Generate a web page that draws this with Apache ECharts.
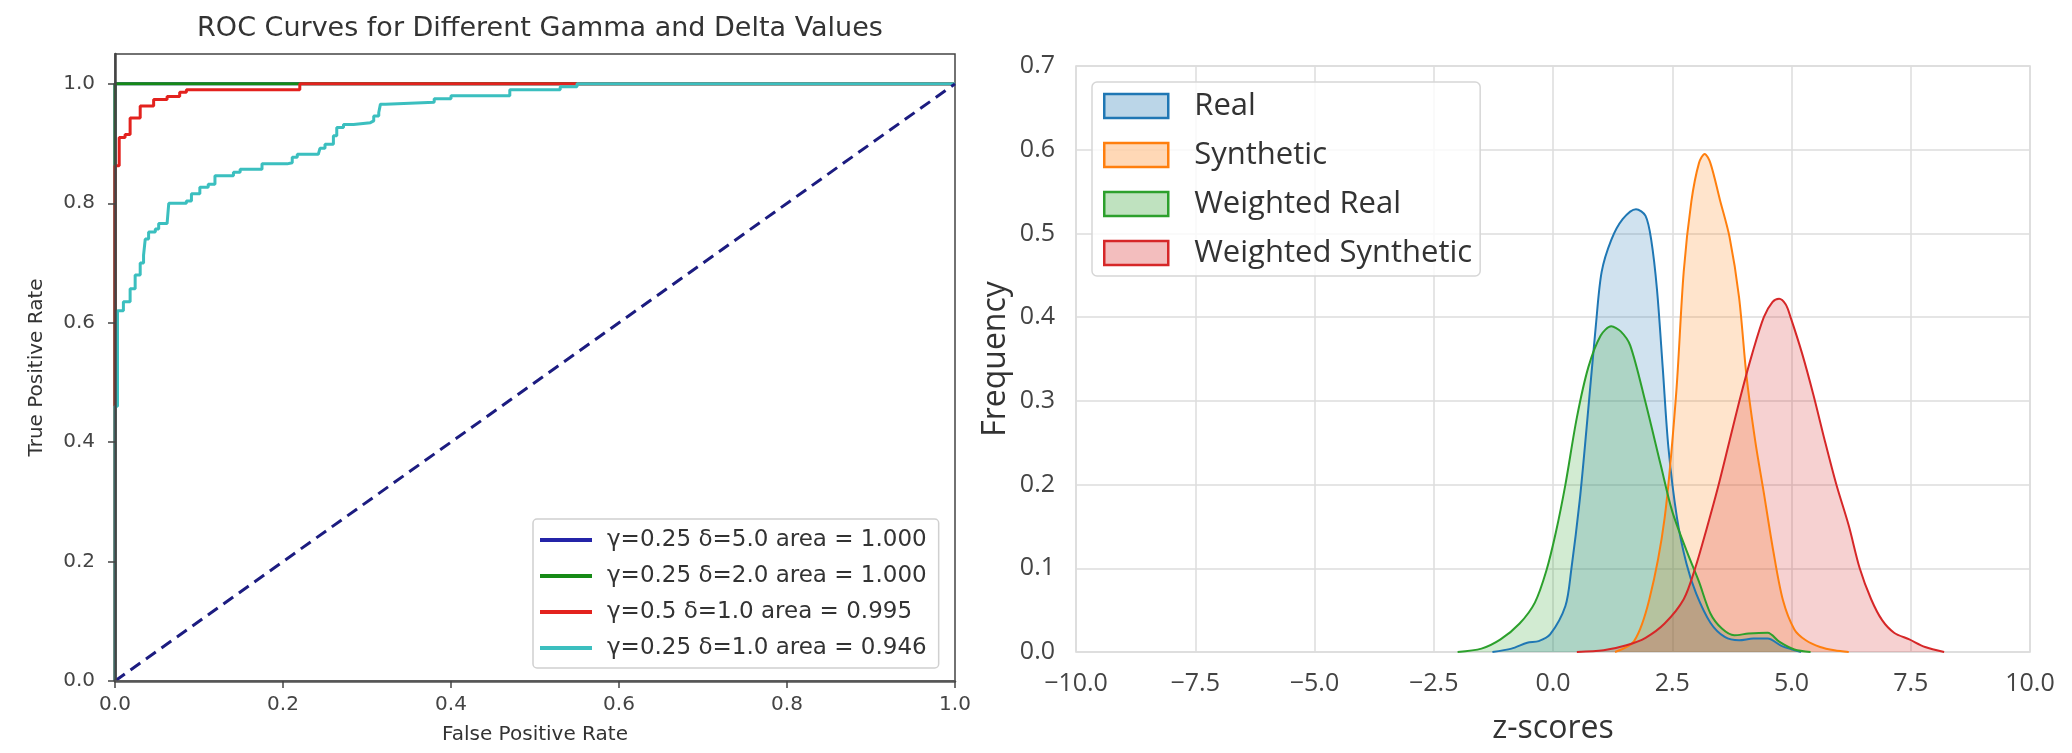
<!DOCTYPE html>
<html>
<head>
<meta charset="utf-8">
<title>ROC curves and z-score densities</title>
<script src="https://cdn.jsdelivr.net/npm/echarts@6/dist/echarts.min.js"></script>
<style>
html,body{margin:0;padding:0;background:#fff;}
#charts{width:2072px;height:753px;}
</style>
</head>
<body>
<div id="charts"></div>
<script>
// left panel: ROC curves
var rocNames = ['γ=0.25 δ=5.0 area = 1.000', 'γ=0.25 δ=2.0 area = 1.000', 'γ=0.5 δ=1.0 area = 0.995', 'γ=0.25 δ=1.0 area = 0.946'];
var rocColors = ['#2424a8', '#168a16', '#e3221e', '#3bbfbf'];
var fprBlue = [0, 0, 1];
var tprBlue = [0, 1, 1];
var fprGreen = [0, 0, 1];
var tprGreen = [0, 1, 1];
var fprRed = [0, 0, 0.005, 0.012, 0.018, 0.03, 0.046, 0.062, 0.077, 0.085, 0.22, 1];
var tprRed = [0, 0.863, 0.91, 0.915, 0.943, 0.963, 0.974, 0.979, 0.986, 0.99, 1, 1];
var fprCyan = [0, 0, 0.003, 0.01, 0.018, 0.024, 0.03, 0.034, 0.036, 0.04, 0.048, 0.052, 0.062, 0.064, 0.085, 0.091, 0.101, 0.111, 0.119, 0.141, 0.149, 0.175, 0.205, 0.211, 0.217, 0.242, 0.244, 0.25, 0.26, 0.264, 0.272, 0.284, 0.304, 0.308, 0.314, 0.316, 0.322, 0.38, 0.4, 0.47, 0.53, 0.55, 1];
var tprCyan = [0, 0.46, 0.62, 0.635, 0.657, 0.68, 0.70, 0.713, 0.74, 0.752, 0.757, 0.766, 0.768, 0.80, 0.804, 0.816, 0.827, 0.832, 0.846, 0.852, 0.857, 0.866, 0.868, 0.877, 0.882, 0.885, 0.892, 0.899, 0.913, 0.927, 0.932, 0.935, 0.938, 0.946, 0.952, 0.966, 0.969, 0.975, 0.98, 0.99, 0.995, 1, 1];
var chanceX = [0, 1];
var chanceY = [0, 1];
var rocXTicks = [0, 0.2, 0.4, 0.6, 0.8, 1.0];
var rocYTicks = [0, 0.2, 0.4, 0.6, 0.8, 1.0];

// right panel: z-score densities
var kdeNames = ['Real', 'Synthetic', 'Weighted Real', 'Weighted Synthetic'];
var kdeLines = ['#1f77b4', '#ff7f0e', '#2ca02c', '#d62728'];
var kdeFills = ['rgba(31,119,180,0.3)', 'rgba(255,127,14,0.3)', 'rgba(44,160,44,0.3)', 'rgba(214,39,40,0.3)'];
var realX = [-1.27, -0.87, -0.54, -0.3, -0.06, 0.26, 0.38, 0.56, 0.7, 0.9, 1.02, 1.22, 1.46, 1.74, 1.94, 2.06, 2.18, 2.3, 2.42, 2.6, 2.8, 3.0, 3.3, 3.6, 3.9, 4.2, 4.5, 4.8, 5.2];
var realY = [0, 0.004, 0.011, 0.013, 0.021, 0.055, 0.097, 0.181, 0.265, 0.391, 0.454, 0.492, 0.517, 0.529, 0.521, 0.492, 0.433, 0.34, 0.244, 0.16, 0.105, 0.07, 0.035, 0.018, 0.014, 0.016, 0.016, 0.007, 0];
var synthX = [1.3, 1.7, 2.02, 2.34, 2.58, 2.74, 2.9, 3.06, 3.18, 3.3, 3.5, 3.7, 3.9, 4.06, 4.24, 4.42, 4.62, 4.82, 5.06, 5.3, 5.6, 5.9, 6.2];
var synthY = [0, 0.013, 0.063, 0.16, 0.307, 0.454, 0.538, 0.584, 0.595, 0.584, 0.54, 0.496, 0.424, 0.328, 0.252, 0.19, 0.12, 0.062, 0.027, 0.014, 0.006, 0.002, 0];
var wRealX = [-2.0, -1.5, -1.1, -0.7, -0.38, -0.14, 0.06, 0.26, 0.5, 0.74, 1.0, 1.22, 1.42, 1.62, 1.94, 2.26, 2.5, 2.82, 3.06, 3.3, 3.54, 3.8, 4.1, 4.5, 4.75, 5.06, 5.4];
var wRealY = [0, 0.004, 0.015, 0.034, 0.059, 0.097, 0.143, 0.2, 0.28, 0.34, 0.378, 0.389, 0.383, 0.366, 0.298, 0.223, 0.168, 0.118, 0.084, 0.046, 0.028, 0.02, 0.022, 0.023, 0.012, 0.003, 0];
var wSynthX = [0.5, 1.06, 1.54, 1.94, 2.34, 2.74, 2.98, 3.22, 3.46, 3.7, 3.94, 4.18, 4.42, 4.6, 4.74, 4.88, 4.98, 5.22, 5.46, 5.7, 5.94, 6.2, 6.43, 6.67, 6.9, 7.15, 7.47, 7.8, 8.2];
var wSynthY = [0, 0.002, 0.008, 0.017, 0.034, 0.063, 0.1, 0.147, 0.197, 0.252, 0.307, 0.357, 0.4, 0.418, 0.422, 0.415, 0.4, 0.357, 0.307, 0.252, 0.2, 0.151, 0.1, 0.063, 0.038, 0.023, 0.015, 0.006, 0];
var zTicks = [-10, -7.5, -5, -2.5, 0, 2.5, 5, 7.5, 10];
var freqTicks = [0, 0.1, 0.2, 0.3, 0.4, 0.5, 0.6, 0.7];

function zip(xs, ys) {
	return xs.map(function (x, i) { return [x, ys[i]]; });
}

var rocData = [zip(fprBlue, tprBlue), zip(fprGreen, tprGreen), zip(fprRed, tprRed), zip(fprCyan, tprCyan)];
var kdeData = [zip(realX, realY), zip(synthX, synthY), zip(wRealX, wRealY), zip(wSynthX, wSynthY)];

var leftFont = 'DejaVu Sans';
var rightFont = 'Open Sans';
var series = [];

rocNames.forEach(function (name, i) {
	series.push({
		name: name,
		type: 'line',
		xAxisIndex: 0,
		yAxisIndex: 0,
		data: rocData[i],
		step: 'end',
		symbol: 'none',
		lineStyle: {color: rocColors[i], width: 3},
		itemStyle: {color: rocColors[i]}
	});
});
series.push({
	name: 'chance',
	type: 'line',
	xAxisIndex: 0,
	yAxisIndex: 0,
	data: zip(chanceX, chanceY),
	symbol: 'none',
	lineStyle: {color: '#1c1c80', width: 3, type: [12, 7]}
});
kdeNames.forEach(function (name, i) {
	series.push({
		name: name,
		type: 'line',
		xAxisIndex: 1,
		yAxisIndex: 1,
		data: kdeData[i],
		smooth: 0.3,
		symbol: 'none',
		lineStyle: {color: kdeLines[i], width: 2},
		itemStyle: {color: kdeLines[i]},
		areaStyle: {color: kdeFills[i]}
	});
});

var option = {
	animation: false,
	backgroundColor: '#fff',
	title: {
		text: 'ROC Curves for Different Gamma and Delta Values',
		left: 535,
		top: 10,
		textAlign: 'center',
		textStyle: {fontFamily: leftFont, fontSize: 27, fontWeight: 'normal', color: '#333'}
	},
	legend: [{
		data: rocNames,
		orient: 'vertical',
		left: 533,
		top: 519,
		icon: 'rect',
		itemWidth: 52,
		itemHeight: 4,
		itemGap: 8,
		padding: [7, 12, 6, 7],
		selectedMode: false,
		borderColor: '#d0d0d0',
		borderWidth: 1.5,
		borderRadius: 4,
		backgroundColor: 'rgba(255,255,255,0.8)',
		textStyle: {fontFamily: leftFont, fontSize: 23, color: '#333', lineHeight: 28, padding: [0, 0, 0, 10]}
	}, {
		data: kdeNames.map(function (n, i) {
			return {name: n, itemStyle: {color: kdeFills[i], borderColor: kdeLines[i], borderWidth: 2.5}};
		}),
		orient: 'vertical',
		left: 1092,
		top: 82,
		icon: 'rect',
		itemWidth: 64,
		itemHeight: 24,
		itemGap: 13,
		padding: [6, 8, 5, 11],
		selectedMode: false,
		borderColor: '#d6d6d6',
		borderWidth: 1.5,
		borderRadius: 5,
		backgroundColor: 'rgba(255,255,255,0.8)',
		textStyle: {fontFamily: rightFont, fontSize: 31, color: '#333', lineHeight: 36, padding: [0, 0, 0, 21]}
	}],
	grid: [
		{left: 115, top: 54, width: 840, height: 627, show: true, borderColor: '#444', borderWidth: 1.5},
		{left: 1076, top: 66, width: 954, height: 586, show: true, borderColor: '#d9d9d9', borderWidth: 1.5}
	],
	xAxis: [{
		type: 'value',
		gridIndex: 0,
		z: 5,
		min: rocXTicks[0],
		max: rocXTicks[rocXTicks.length - 1],
		interval: 0.2,
		name: 'False Positive Rate',
		nameLocation: 'middle',
		nameGap: 44,
		nameTextStyle: {fontFamily: leftFont, fontSize: 20, color: '#333'},
		axisLine: {show: true, onZero: false, lineStyle: {color: '#555', width: 2.5}},
		axisTick: {show: true, length: 7, lineStyle: {color: '#444', width: 1.5}},
		axisLabel: {fontFamily: leftFont, fontSize: 20, color: '#444', margin: 14, formatter: function (v) { return v.toFixed(1); }},
		splitLine: {show: false}
	}, {
		type: 'value',
		gridIndex: 1,
		min: zTicks[0],
		max: zTicks[zTicks.length - 1],
		interval: zTicks[1] - zTicks[0],
		name: 'z-scores',
		nameLocation: 'middle',
		nameGap: 61,
		nameTextStyle: {fontFamily: rightFont, fontSize: 32, color: '#333'},
		axisLine: {show: false},
		axisTick: {show: false},
		axisLabel: {fontFamily: rightFont, fontSize: 25, color: '#444', margin: 19, formatter: function (v) { return (v < 0 ? '\u2212' : '') + Math.abs(v).toFixed(1); }},
		splitLine: {show: true, lineStyle: {color: '#dcdcdc', width: 1.5}}
	}],
	yAxis: [{
		type: 'value',
		gridIndex: 0,
		z: 5,
		min: 0,
		max: 1.05,
		interval: 0.2,
		name: 'True Positive Rate',
		nameLocation: 'middle',
		nameGap: 68,
		nameTextStyle: {fontFamily: leftFont, fontSize: 20, color: '#333'},
		axisLine: {show: true, onZero: false, lineStyle: {color: '#444', width: 2.5}},
		axisTick: {show: true, length: 7, customValues: rocYTicks, lineStyle: {color: '#444', width: 1.5}},
		axisLabel: {fontFamily: leftFont, fontSize: 20, color: '#444', margin: 20, customValues: rocYTicks, formatter: function (v) { return v.toFixed(1); }},
		splitLine: {show: false}
	}, {
		type: 'value',
		gridIndex: 1,
		min: freqTicks[0],
		max: freqTicks[freqTicks.length - 1],
		interval: 0.1,
		name: 'Frequency',
		nameLocation: 'middle',
		nameGap: 64,
		nameTextStyle: {fontFamily: rightFont, fontSize: 32, color: '#333'},
		axisLine: {show: false},
		axisTick: {show: false},
		axisLabel: {fontFamily: rightFont, fontSize: 25, color: '#444', margin: 21, formatter: function (v) { return v.toFixed(1); }},
		splitLine: {show: true, lineStyle: {color: '#dcdcdc', width: 1.5}}
	}],
	series: series
};

var myChart = echarts.init(document.getElementById('charts'));
myChart.setOption(option);
window.addEventListener('resize', function () {
	myChart.resize();
});
</script>
</body>
</html>
